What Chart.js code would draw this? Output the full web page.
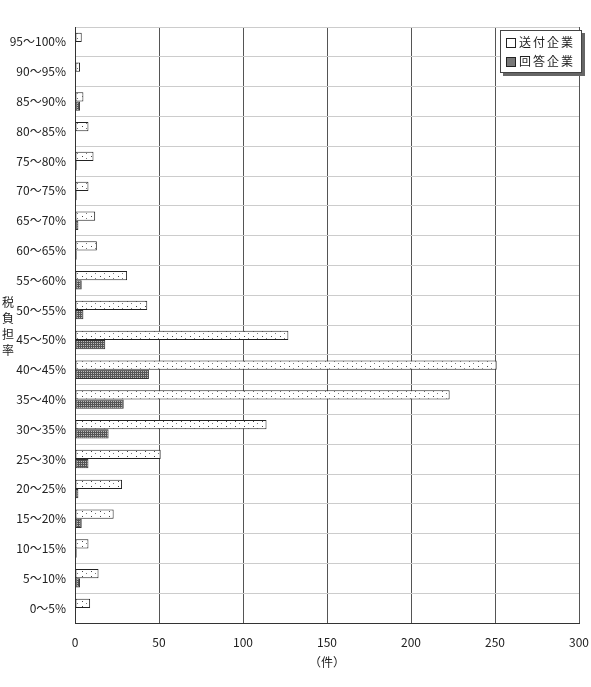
<!DOCTYPE html>
<html>
<head>
<meta charset="utf-8">
<script src="https://cdn.jsdelivr.net/npm/chart.js@4"></script>
<style>
  body { margin: 0; background: #fff; }
  #wrap { position: relative; width: 591px; height: 687px; font-family: "Noto Sans CJK JP", sans-serif; color: #222; }
  #yTitle { position: absolute; left: 1px; top: 294px; width: 14px; font-size: 12px; line-height: 16px; text-align: center; }
  #legend { position: absolute; left: 500px; top: 30px; width: 80px; height: 41px; border: 1px solid #444; background: #fff;
            box-shadow: 3px 3px 0 #666; font-size: 12px; letter-spacing: 2px; }
  #legend div { position: absolute; left: 5px; }
  #legend span.box { display: inline-block; width: 8px; height: 8px; border: 1px solid #222; margin-right: 3px; vertical-align: -1px; }
</style>
</head>
<body>
<div id="wrap">
  <canvas id="dataChart" width="591" height="687"></canvas>
  <div id="yTitle">税<br>負<br>担<br>率</div>
  <div id="legend">
    <div style="top:2px"><span class="box" style="background:#fff"></span>送付企業</div>
    <div style="top:21px"><span class="box" style="background:#777"></span>回答企業</div>
  </div>
</div>
<script>
const categories = ['95～100%', '90～95%', '85～90%', '80～85%', '75～80%', '70～75%', '65～70%',
  '60～65%', '55～60%', '50～55%', '45～50%', '40～45%', '35～40%', '30～35%', '25～30%',
  '20～25%', '15～20%', '10～15%', '5～10%', '0～5%'];
const sentCompanies = [4, 3, 5, 8, 11, 8, 12, 13, 31, 43, 127, 251, 223, 114, 51, 28, 23, 8, 14, 9];
const answeredCompanies = [0, 0, 3, 0, 1, 1, 2, 1, 4, 5, 18, 44, 29, 20, 8, 2, 4, 1, 3, 0];
const xTicks = [0, 50, 100, 150, 200, 250, 300];

// fill patterns: sparse dots on white, dense grey mesh
function makePattern(w, h, draw) {
  const c = document.createElement('canvas');
  c.width = w; c.height = h;
  const p = c.getContext('2d');
  draw(p);
  return document.getElementById('dataChart').getContext('2d').createPattern(c, 'repeat');
}
const dotPattern = makePattern(9, 5, p => {
  p.fillStyle = '#fff'; p.fillRect(0, 0, 9, 5);
  p.fillStyle = '#444'; p.fillRect(1, 1, 1, 1);
  p.fillStyle = '#777'; p.fillRect(5, 3, 1, 1);
});
const meshPattern = makePattern(2, 2, p => {
  p.fillStyle = '#555'; p.fillRect(0, 0, 2, 2);
  p.fillStyle = '#bbb'; p.fillRect(1, 1, 1, 1);
});

const font = { family: '"Noto Sans CJK JP", sans-serif', size: 12 };

new Chart(document.getElementById('dataChart'), {
  type: 'bar',
  data: {
    labels: categories,
    datasets: [
      { label: '送付企業', data: sentCompanies, backgroundColor: dotPattern,
        borderColor: '#222', borderWidth: 1, borderSkipped: false },
      { label: '回答企業', data: answeredCompanies, backgroundColor: meshPattern,
        borderColor: '#333', borderWidth: 1, borderSkipped: false }
    ]
  },
  options: {
    indexAxis: 'y',
    responsive: false,
    animation: false,
    datasets: { bar: { categoryPercentage: 0.62, barPercentage: 1.0 } },
    layout: { padding: { top: 27, right: 12, left: 0, bottom: 13 } },
    plugins: { legend: { display: false }, tooltip: { enabled: false } },
    scales: {
      x: {
        min: 0, max: 300,
        afterBuildTicks: s => { s.ticks = xTicks.map(v => ({ value: v })); },
        afterFit: s => { s.height = 51; s.paddingLeft = 0; s.paddingRight = 0; },
        grid: { color: '#555', drawTicks: false },
        border: { color: '#333' },
        ticks: { color: '#222', font, padding: 12 },
        title: { display: true, text: '（件）', color: '#222', font, padding: { top: 2 } }
      },
      y: {
        afterFit: s => { s.width = 75; s.paddingTop = 0; s.paddingBottom = 0; },
        grid: { color: '#ccc', drawTicks: false, offset: true },
        border: { color: '#333' },
        ticks: { color: '#222', font, padding: 9 }
      }
    }
  }
});
</script>
</body>
</html>
